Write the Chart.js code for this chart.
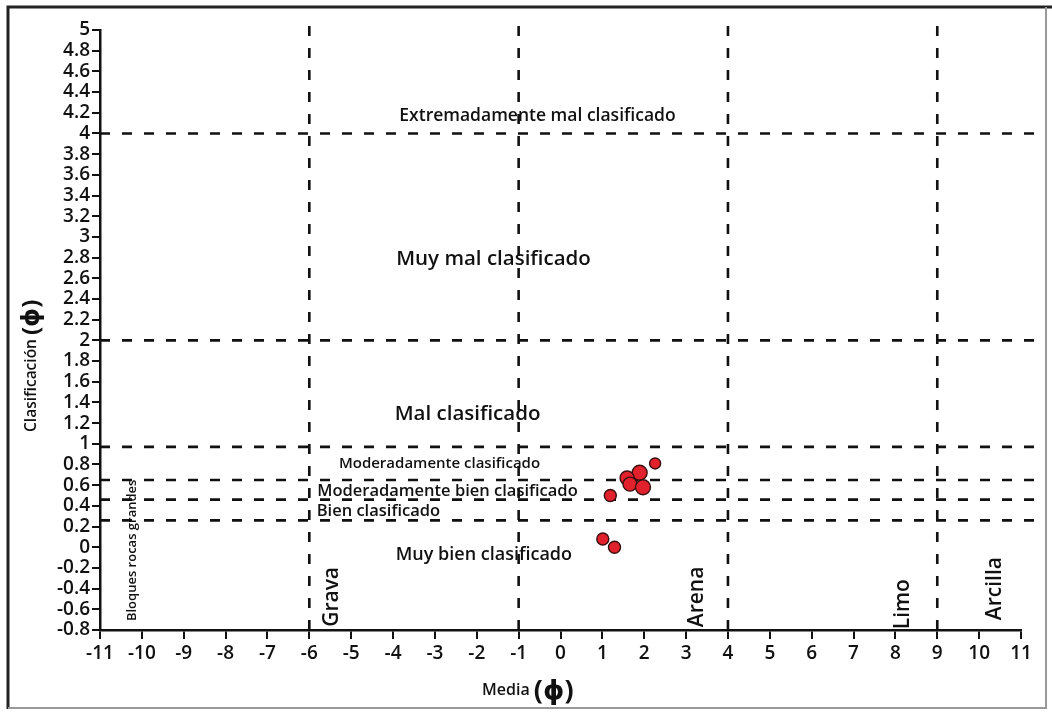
<html lang="es">
<head>
  <meta charset="UTF-8">
  <script src="https://cdn.jsdelivr.net/npm/chart.js@4.4.1/dist/chart.umd.min.js"></script>
  <title>Media vs Clasificación</title>
  <style>
    body { margin: 0; background: #fff; }
  </style>
</head>
<body>
  <canvas id="myChart" width="1052" height="713"></canvas>
  <script>
    // muestras: media (phi) y clasificacion (phi)
    const meanPhi = [2.26, 1.89, 1.59, 1.66, 1.97, 1.19, 1.01, 1.29];
    const sortingPhi = [0.81, 0.72, 0.67, 0.61, 0.58, 0.50, 0.08, 0.00];

    // limites de clases
    const sortingBounds = [4, 2, 0.97, 0.65, 0.46, 0.26];
    const grainBounds = [-6, -1, 4, 9];

    const sortingNames = ['Extremadamente mal clasificado', 'Muy mal clasificado', 'Mal clasificado',
      'Moderadamente clasificado', 'Moderadamente bien clasificado', 'Bien clasificado', 'Muy bien clasificado'];
    const grainNames = ['Bloques rocas grandes', 'Grava', 'Arena', 'Limo', 'Arcilla'];

    const xTickMin = -11, xTickMax = 11;
    const yTickMin = -0.8, yTickMax = 5;

    const FONT = '"Open Sans", "DejaVu Sans", sans-serif';

    // where the zone labels sit (data coords) and their size
    const sortingLabelPos = [[-0.55, 4.17, 17.5], [-1.6, 2.78, 20.5], [-2.22, 1.29, 20.5],
      [-2.89, 0.81, 15], [-2.7, 0.545, 16.5], [-4.35, 0.35, 16.5], [-1.83, -0.07, 18]];
    const grainLabelPos = [[-10.23, -0.03, 13], [-5.45, -0.48, 21], [3.25, -0.48, 21], [8.17, -0.55, 21], [10.37, -0.4, 21]];

    const dashStyle = {
      type: 'line',
      borderColor: '#111',
      borderWidth: 2.6,
      borderDash: [10, 12],
      pointRadius: 0,
      showLine: true,
      clip: false,
      order: 2
    };

    const lineSets = [
      ...sortingBounds.map(v => ({ ...dashStyle, data: [{ x: -11, y: v }, { x: 11.57, y: v }] })),
      ...grainBounds.map(v => ({ ...dashStyle, data: [{ x: v, y: -0.8 }, { x: v, y: 5.11 }] }))
    ];

    const frameAndText = {
      id: 'frameAndText',
      beforeDraw(chart) {
        const c = chart.ctx;
        c.save();
        c.fillStyle = '#fff';
        c.fillRect(0, 0, chart.width, chart.height);
        c.restore();
      },
      afterDraw(chart) {
        const c = chart.ctx;
        const xs = chart.scales.x, ys = chart.scales.y;
        c.save();
        // frame
        c.strokeStyle = '#222';
        c.lineWidth = 3;
        c.beginPath();
        c.moveTo(8, 709); c.lineTo(8, 7); c.lineTo(1052, 7);
        c.stroke();
        c.strokeStyle = '#999';
        c.lineWidth = 2;
        c.beginPath();
        c.moveTo(8, 708); c.lineTo(1046, 708); c.lineTo(1046, 7);
        c.stroke();

        c.fillStyle = '#111';
        c.textBaseline = 'middle';
        c.textAlign = 'center';
        sortingNames.forEach((t, i) => {
          const p = sortingLabelPos[i];
          c.font = '600 ' + p[2] + 'px ' + FONT;
          c.fillText(t, xs.getPixelForValue(p[0]), ys.getPixelForValue(p[1]));
        });
        grainNames.forEach((t, i) => {
          const p = grainLabelPos[i];
          c.save();
          c.translate(xs.getPixelForValue(p[0]), ys.getPixelForValue(p[1]));
          c.rotate(-Math.PI / 2);
          c.font = '600 ' + p[2] + 'px ' + FONT;
          c.fillText(t, 0, 0);
          c.restore();
        });

        // axis titles
        c.textAlign = 'left';
        c.textBaseline = 'alphabetic';
        c.font = '600 16px ' + FONT;
        c.fillText('Media', 482, 695);
        let w = c.measureText('Media ').width;
        c.font = 'bold 27px ' + FONT;
        c.fillText('(ϕ)', 482 + w, 699);

        c.save();
        c.translate(36, 432);
        c.rotate(-Math.PI / 2);
        c.font = '600 15.5px ' + FONT;
        c.fillText('Clasificación', 0, 0);
        w = c.measureText('Clasificación ').width;
        c.font = 'bold 24px ' + FONT;
        c.fillText('(ϕ)', w, 3);
        c.restore();
        c.restore();
      }
    };

    const ctx = document.getElementById('myChart').getContext('2d');
    const myChart = new Chart(ctx, {
      type: 'scatter',
      data: {
        datasets: [
          {
            label: 'Muestras',
            data: meanPhi.map((x, i) => ({ x: x, y: sortingPhi[i] })),
            backgroundColor: '#e1222c',
            borderColor: '#3a0f10',
            borderWidth: 1.4,
            pointRadius: [5.5, 7.5, 7, 7, 7.5, 6, 6, 6],
            order: 0
          },
          ...lineSets
        ]
      },
      options: {
        responsive: false,
        animation: false,
        layout: { padding: { left: 0, top: 30, right: 31, bottom: 0 } },
        plugins: {
          legend: { display: false },
          tooltip: { enabled: false }
        },
        scales: {
          x: {
            type: 'linear',
            min: xTickMin,
            max: xTickMax,
            afterFit(scale) { scale.height = 83; },
            border: { display: true, color: '#111', width: 2.5 },
            grid: { drawOnChartArea: false, color: '#111', tickLength: 9, lineWidth: 2 },
            ticks: {
              stepSize: 1,
              autoSkip: false,
              maxRotation: 0,
              padding: 3,
              color: '#111',
              font: { family: FONT, size: 19, weight: '600' }
            }
          },
          y: {
            type: 'linear',
            min: yTickMin,
            max: yTickMax,
            afterFit(scale) { scale.width = 100; },
            border: { display: true, color: '#111', width: 2.5 },
            grid: { drawOnChartArea: false, color: '#111', tickLength: 8, lineWidth: 2 },
            ticks: {
              stepSize: 0.2,
              autoSkip: false,
              maxTicksLimit: 100,
              padding: 2,
              color: '#111',
              font: { family: FONT, size: 19, weight: '600', lineHeight: 1 },
              callback: v => String(Math.round(v * 10) / 10)
            }
          }
        }
      },
      plugins: [frameAndText]
    });
  </script>
</body>
</html>
